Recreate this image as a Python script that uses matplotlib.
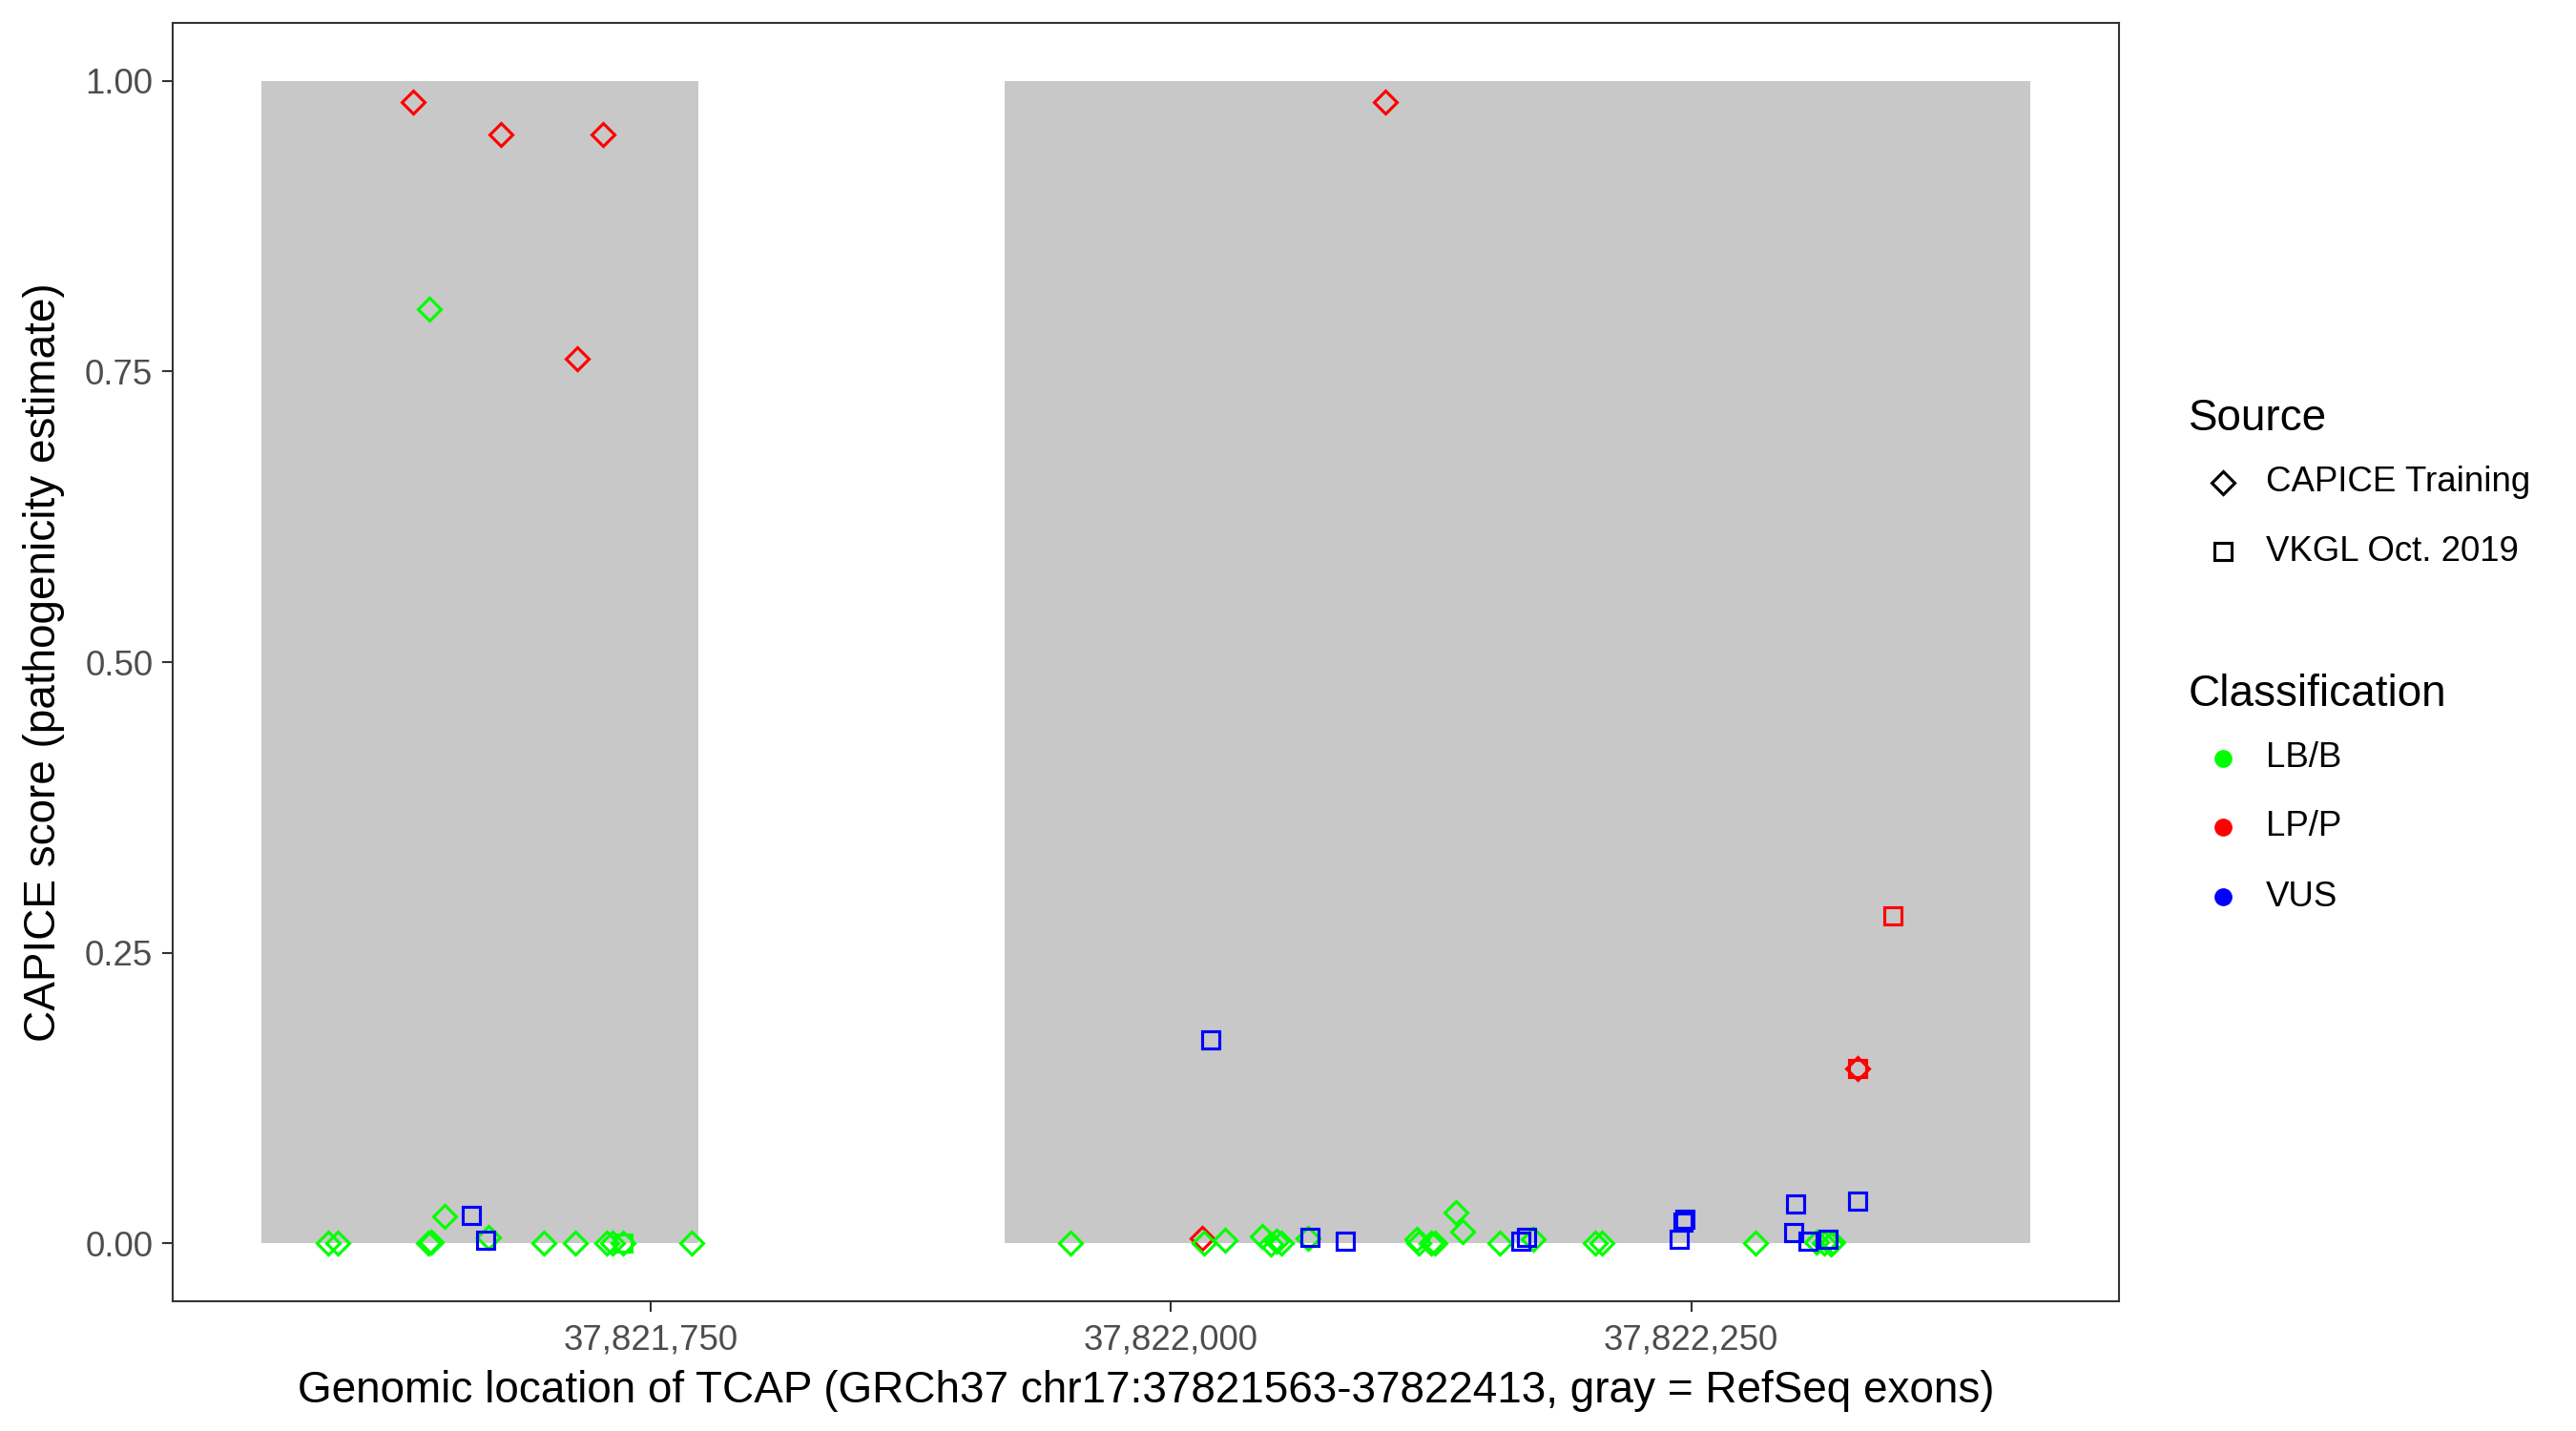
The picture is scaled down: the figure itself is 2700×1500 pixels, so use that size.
import matplotlib
matplotlib.use("Agg")
import matplotlib.pyplot as plt
from matplotlib.patches import Rectangle
from matplotlib.lines import Line2D
from matplotlib.ticker import FuncFormatter

plt.rcParams['font.family'] = ['Liberation Sans', 'DejaVu Sans']

# ---- data ----
exon_starts = [37821563, 37821920]
exon_ends = [37821773, 37822413]

# CAPICE Training, LB/B (green diamonds)
capice_lbb_x = [37821595, 37821600, 37821643.5, 37821644.5, 37821651, 37821672, 37821699,
                37821714, 37821729, 37821732, 37821737, 37821770, 37821644,
                37821952, 37822016, 37822026, 37822044, 37822048, 37822051, 37822053,
                37822066, 37822118, 37822119, 37822125, 37822127, 37822137, 37822140,
                37822158, 37822174, 37822204, 37822207, 37822281, 37822310, 37822314,
                37822317, 37822318]
capice_lbb_y = [0.0, 0.0, 0.0, 0.001, 0.023, 0.005, 0.0,
                0.0, 0.0, 0.0, 0.0, 0.0, 0.804,
                0.0, 0.0, 0.0023, 0.0056, -0.001, 0.002, 0.0,
                0.004, 0.003, 0.0, 0.0, 0.0, 0.026, 0.0097,
                0.0, 0.0034, 0.0, 0.0, 0.0, 0.001, 0.0,
                -0.001, 0.001]

# CAPICE Training, LP/P (red diamonds)
capice_lpp_x = [37821636, 37821678, 37821727, 37821715, 37822103, 37822015, 37822330]
capice_lpp_y = [0.982, 0.954, 0.954, 0.761, 0.982, 0.004, 0.150]

# VKGL Oct. 2019, LB/B (green squares)
vkgl_lbb_x = [37821737]
vkgl_lbb_y = [0.0]

# VKGL Oct. 2019, LP/P (red squares)
vkgl_lpp_x = [37822330, 37822347]
vkgl_lpp_y = [0.150, 0.282]

# VKGL Oct. 2019, VUS (blue squares)
vkgl_vus_x = [37821664, 37821671, 37822019, 37822067, 37822084, 37822168, 37822171,
              37822244, 37822246, 37822247, 37822299, 37822300, 37822306, 37822315.5,
              37822330]
vkgl_vus_y = [0.024, 0.0026, 0.175, 0.005, 0.0015, 0.0015, 0.005,
              0.003, 0.018, 0.0206, 0.009, 0.034, 0.0015, 0.003,
              0.036]

x_ticks = [37821750, 37822000, 37822250]
y_ticks = [0.0, 0.25, 0.5, 0.75, 1.0]

classes = ["LB/B", "LP/P", "VUS"]
class_colors = {"LB/B": "#00FF00", "LP/P": "#FF0000", "VUS": "#0000FF"}
sources = ["CAPICE Training", "VKGL Oct. 2019"]
source_markers = {"CAPICE Training": "D", "VKGL Oct. 2019": "s"}

# ---- figure ----
W, H = 2700, 1500
fig = plt.figure(figsize=(9, 5), dpi=300)
ax = fig.add_axes([181 / W, 1 - 1364 / H, (2221 - 181) / W, (1364 - 24) / H])

for s, e in zip(exon_starts, exon_ends):
    ax.add_patch(Rectangle((s, 0), e - s, 1, facecolor="#C8C8C8", edgecolor="none", zorder=1))

ms_d = 4.2
ms_s = 4.3
mew = 0.75

def draw(xs, ys, marker, color):
    ax.plot(xs, ys, linestyle="none", marker=marker, markersize=ms_d if marker == "D" else ms_s,
            markerfacecolor="none", markeredgecolor=color, markeredgewidth=mew, zorder=3)

draw(capice_lpp_x, capice_lpp_y, "D", class_colors["LP/P"])
draw(capice_lbb_x, capice_lbb_y, "D", class_colors["LB/B"])
draw(vkgl_lbb_x, vkgl_lbb_y, "s", class_colors["LB/B"])
draw(vkgl_lpp_x, vkgl_lpp_y, "s", class_colors["LP/P"])
draw(vkgl_vus_x, vkgl_vus_y, "s", class_colors["VUS"])

span = exon_ends[-1] - exon_starts[0]
ax.set_xlim(exon_starts[0] - 0.05 * span, exon_ends[-1] + 0.05 * span)
ax.set_ylim(-0.05, 1.05)
ax.set_xticks(x_ticks)
ax.xaxis.set_major_formatter(FuncFormatter(lambda v, p: f"{int(round(v)):,}"))
ax.set_yticks(y_ticks)
ax.yaxis.set_major_formatter(FuncFormatter(lambda v, p: f"{v:.2f}"))
ax.tick_params(axis="both", length=2.75, width=0.5, color="#333333",
               labelsize=8.8, labelcolor="#4D4D4D", pad=2.2)
ax.tick_params(axis="x", pad=2.8)
for sp in ax.spines.values():
    sp.set_color("#333333")
    sp.set_linewidth(0.5)
    sp.set_zorder(5)

ax.set_xlabel("Genomic location of TCAP (GRCh37 chr17:37821563-37822413, gray = RefSeq exons)",
              fontsize=11, color="black", labelpad=3.3)
ax.set_ylabel("CAPICE score (pathogenicity estimate)", fontsize=11, color="black", labelpad=5)

# ---- legends (manual, figure coords) ----
def fx(px):
    return px / W

def fy(py):
    return 1 - py / H

fig.text(fx(2294), fy(439), "Source", fontsize=11, va="center", ha="left")
src_y = [506, 578]
for s, yy in zip(sources, src_y):
    m = source_markers[s]
    fig.add_artist(Line2D([fx(2330)], [fy(yy)], transform=fig.transFigure, linestyle="none",
                          marker=m, markersize=ms_d if m == "D" else ms_s,
                          markerfacecolor="none", markeredgecolor="black", markeredgewidth=mew))
    fig.text(fx(2375), fy(yy), s, fontsize=8.8, va="center", ha="left")

fig.text(fx(2294), fy(728), "Classification", fontsize=11, va="center", ha="left")
cls_y = [795, 867, 940]
for c, yy in zip(classes, cls_y):
    fig.add_artist(Line2D([fx(2330)], [fy(yy)], transform=fig.transFigure, linestyle="none",
                          marker="o", markersize=4.5, markerfacecolor=class_colors[c],
                          markeredgecolor=class_colors[c], markeredgewidth=0))
    fig.text(fx(2375), fy(yy), c, fontsize=8.8, va="center", ha="left")

fig.savefig("out.png", dpi=300, facecolor="white")
